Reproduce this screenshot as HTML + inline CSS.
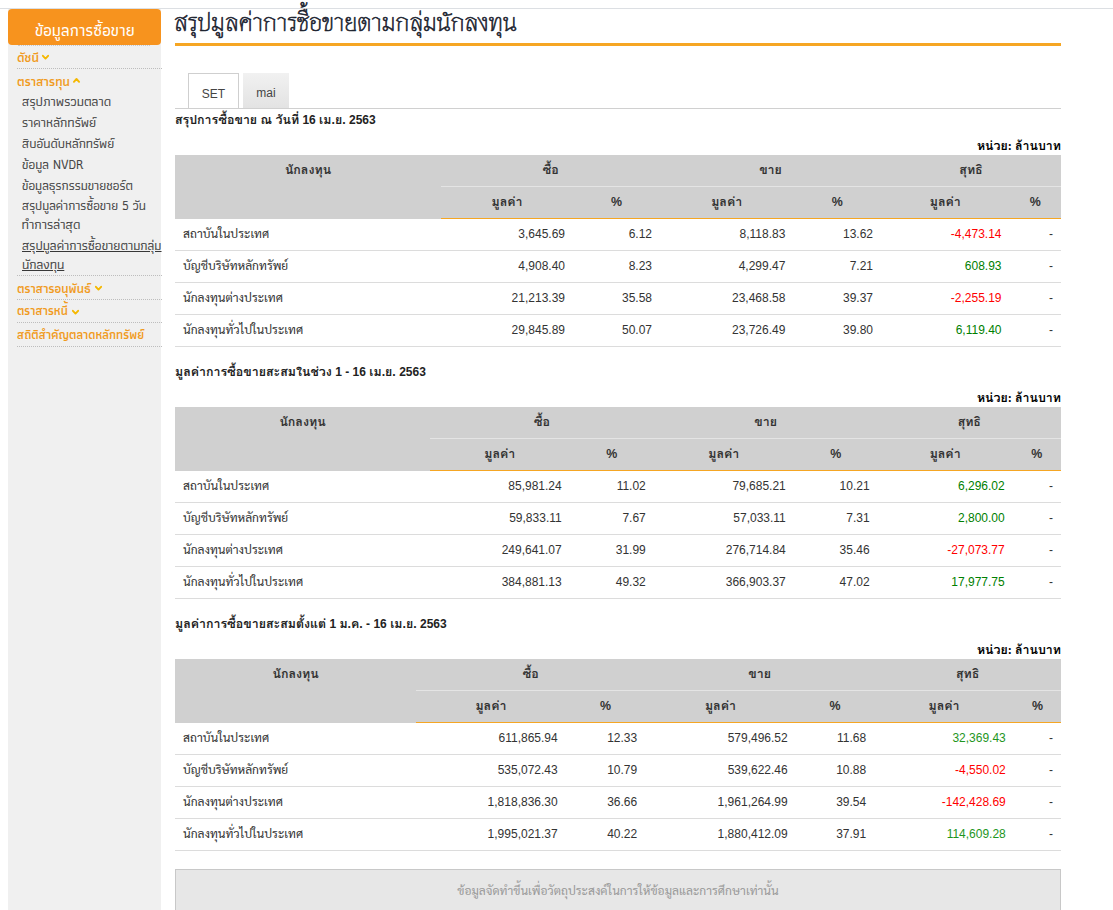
<!DOCTYPE html>
<html lang="th">
<head>
<meta charset="utf-8">
<title>สรุปมูลค่าการซื้อขายตามกลุ่มนักลงทุน</title>
<style>
*{box-sizing:border-box}
html,body{margin:0;padding:0}
body{width:1113px;height:910px;overflow:hidden;background:#fff;position:relative;font-family:"Liberation Sans","Sarabun","Noto Sans Thai Looped",sans-serif;font-size:12px;color:#333}
.abs{position:absolute;white-space:nowrap}
.topline{position:absolute;left:0;top:8px;width:1113px;height:1px;background:#dcdfe3}
.side{position:absolute;left:8px;top:9px;width:153px;height:901px;background:#f0f0f0}
.shead{position:absolute;left:8px;top:9px;width:153px;height:36px;background:#f7931e;border-radius:4px}
.hdot{position:absolute;left:18px;top:45px;width:132px;height:0;border-top:1px dotted #c3c8d0}
.dot{position:absolute;left:17px;width:145px;height:0;border-top:1px dotted #bdbdbd}
.cat{position:absolute;font-family:'Athiti','Thasadith','Noto Sans Thai',sans-serif;font-weight:600;font-size:13.7px;color:#f09a20;line-height:20px;white-space:nowrap;transform-origin:0 0}
.item{position:absolute;font-family:'Athiti','Thasadith','Noto Sans Thai',sans-serif;font-weight:400;font-size:13.4px;color:#383838;-webkit-text-stroke:0.2px #383838;line-height:20px;white-space:nowrap;transform-origin:0 0}
.sh{position:absolute;font-family:'Athiti','Thasadith','Noto Sans Thai',sans-serif;font-weight:500;font-size:17px;color:#fff;line-height:20px;white-space:nowrap;transform-origin:0 0}
.item.u{text-decoration:underline;text-underline-offset:1px}
.chv{position:absolute;overflow:visible}
.chv polyline{fill:none;stroke:#f5b800;stroke-width:1.9;stroke-linecap:round;stroke-linejoin:round}
.title{position:absolute;left:174px;top:7px;font-family:"Thasadith","Athiti","Noto Sans Thai",sans-serif;font-size:25.4px;color:#1d2430;line-height:30px;white-space:nowrap;-webkit-text-stroke:0.6px #1d2430}
.tline{position:absolute;left:175px;top:43px;width:886px;height:3px;background:#f6a623}
.tab{position:absolute;top:73px;height:35px;border:1px solid #cfcfcf;border-bottom:none;text-align:center;font-size:12px;color:#444;line-height:41px}
.tab1{left:188px;width:51px;background:#fff}
.tab2{left:243px;width:46px;border:none;background:linear-gradient(#f1f1f1,#e3e3e3)}
.tabline{position:absolute;left:175px;top:108px;width:886px;height:1px;background:#d0d0d0}
.h{position:absolute;left:175px;font-weight:700;font-size:12px;color:#222;line-height:16px;white-space:nowrap;font-family:"Liberation Sans","Loma","Sarabun","Noto Sans Thai Looped",sans-serif}
.h .t{font-size:12.4px}
.unit{position:absolute;right:52px;font-family:"Liberation Serif","Loma","Sarabun","Noto Sans Thai Looped",serif;font-weight:700;font-size:12.4px;color:#000;line-height:16px;white-space:nowrap}
table.d{position:absolute;left:175px;width:886px;border-collapse:collapse;table-layout:fixed}
table.d th{background:#d0d0d0;font-weight:700;color:#333;text-align:center;height:31px;padding:0;vertical-align:top;line-height:14px;padding-top:8px;font-size:12.4px;font-family:"Liberation Sans","Loma","Sarabun","Noto Sans Thai Looped",sans-serif}
table.d tr.r1 th.g{border-bottom:1px solid #e4e4e4}
table.d tr.r2 th{border-bottom:1px solid #f5a623;height:31px}
table.d th.n{height:63px;border-bottom:1px solid #d0d0d0}
table.d td{height:32px;border-bottom:1px solid #dcdcdc;padding:0 8px 0 0;text-align:right;vertical-align:top;padding-top:8px;line-height:14px}
table.d td.l{text-align:left;padding-left:8px}
.neg{color:#ff0000}.pos{color:#008000}.pos3{color:#1e961e}
.foot{position:absolute;left:175px;top:869px;width:886px;height:60px;background:#e7e7e7;border:1px solid #c8c8c8;text-align:center;color:#999;font-size:12px;line-height:16px;padding-top:13px}
</style>
</head>
<body>
<div class="topline"></div>
<div class="side"></div>
<div class="shead"></div>
<div class="hdot"></div>
<!-- SIDE -->
<div class="sh" style="left:35.3px;top:19.7px;transform:scaleX(0.969)">ข้อมูลการซื้อขาย</div>
<div class="cat" style="left:17.3px;top:47.0px;transform:scaleX(0.943)">ดัชนี</div>
<div class="cat" style="left:17.2px;top:70.8px;transform:scaleX(0.925)">ตราสารทุน</div>
<div class="item" style="left:21.6px;top:92.0px;transform:scaleX(0.991)">สรุปภาพรวมตลาด</div>
<div class="item" style="left:21.6px;top:112.8px;transform:scaleX(0.986)">ราคาหลักทรัพย์</div>
<div class="item" style="left:21.6px;top:133.9px;transform:scaleX(0.971)">สิบอันดับหลักทรัพย์</div>
<div class="item" style="left:21.6px;top:154.8px;transform:scaleX(0.973)">ข้อมูล NVDR</div>
<div class="item" style="left:21.6px;top:175.5px;transform:scaleX(0.967)">ข้อมูลธุรกรรมขายชอร์ต</div>
<div class="item" style="left:21.6px;top:195.5px;transform:scaleX(0.957)">สรุปมูลค่าการซื้อขาย 5 วัน</div>
<div class="item" style="left:21.6px;top:214.7px;transform:scaleX(1.000)">ทำการล่าสุด</div>
<div class="item u" style="left:21.6px;top:235.8px;transform:scaleX(0.980)">สรุปมูลค่าการซื้อขายตามกลุ่ม</div>
<div class="item u" style="left:21.6px;top:255.2px;transform:scaleX(0.980)">นักลงทุน</div>
<div class="cat" style="left:17.2px;top:277.5px;transform:scaleX(0.911)">ตราสารอนุพันธ์</div>
<div class="cat" style="left:17.2px;top:300.4px;transform:scaleX(0.893)">ตราสารหนี้</div>
<div class="cat" style="left:17.2px;top:324.3px;transform:scaleX(0.895)">สถิติสำคัญตลาดหลักทรัพย์</div>
<!-- /SIDE -->
<div class="dot" style="top:68px"></div>
<div class="dot" style="top:275px"></div>
<div class="dot" style="top:299px"></div>
<div class="dot" style="top:322px"></div>
<div class="dot" style="top:346px"></div>
<svg class="chv" style="left:41px;top:54px" width="9" height="7" viewBox="0 0 9 7"><polyline points="1.9,1.8 4.5,4.6 7.1,1.8"/></svg>
<svg class="chv" style="left:71.5px;top:76.5px" width="9" height="7" viewBox="0 0 9 7"><polyline points="1.9,4.8 4.5,2 7.1,4.8"/></svg>
<svg class="chv" style="left:93.7px;top:285.2px" width="9" height="7" viewBox="0 0 9 7"><polyline points="1.9,1.8 4.5,4.6 7.1,1.8"/></svg>
<svg class="chv" style="left:70.8px;top:308.9px" width="9" height="7" viewBox="0 0 9 7"><polyline points="1.9,1.8 4.5,4.6 7.1,1.8"/></svg>

<div class="title">สรุปมูลค่าการซื้อขายตามกลุ่มนักลงทุน</div>
<div class="tline"></div>
<div class="tab tab1">SET</div>
<div class="tab tab2">mai</div>
<div class="tabline"></div>

<!-- TABLES -->
<div class="h" style="top:111.5px"><span class="t">สรุปการซื้อขาย ณ วันที่</span> 16 <span class="t">เม.ย.</span> 2563</div>
<div class="unit" style="top:137.8px">หน่วย: ล้านบาท</div>
<table class="d" style="top:155px"><colgroup><col style="width:266px"><col style="width:132px"><col style="width:87px"><col style="width:133.4px"><col style="width:87.6px"><col style="width:128.5px"><col style="width:51.5px"></colgroup><tr class="r1"><th class="n" rowspan="2">นักลงทุน</th><th class="g" colspan="2">ซื้อ</th><th class="g" colspan="2">ขาย</th><th class="g" colspan="2">สุทธิ</th></tr><tr class="r2"><th>มูลค่า</th><th>%</th><th>มูลค่า</th><th>%</th><th>มูลค่า</th><th>%</th></tr><tr><td class="l">สถาบันในประเทศ</td><td>3,645.69</td><td>6.12</td><td>8,118.83</td><td>13.62</td><td class="neg">-4,473.14</td><td>-</td></tr><tr><td class="l">บัญชีบริษัทหลักทรัพย์</td><td>4,908.40</td><td>8.23</td><td>4,299.47</td><td>7.21</td><td class="pos">608.93</td><td>-</td></tr><tr><td class="l">นักลงทุนต่างประเทศ</td><td>21,213.39</td><td>35.58</td><td>23,468.58</td><td>39.37</td><td class="neg">-2,255.19</td><td>-</td></tr><tr><td class="l">นักลงทุนทั่วไปในประเทศ</td><td>29,845.89</td><td>50.07</td><td>23,726.49</td><td>39.80</td><td class="pos">6,119.40</td><td>-</td></tr></table>
<div class="h" style="top:363.5px"><span class="t">มูลค่าการซื้อขายสะสมในช่วง</span> 1 - 16 <span class="t">เม.ย.</span> 2563</div>
<div class="unit" style="top:389.8px">หน่วย: ล้านบาท</div>
<table class="d" style="top:407px"><colgroup><col style="width:255px"><col style="width:139.7px"><col style="width:84.1px"><col style="width:140.0px"><col style="width:83.8px"><col style="width:135.1px"><col style="width:48.3px"></colgroup><tr class="r1"><th class="n" rowspan="2">นักลงทุน</th><th class="g" colspan="2">ซื้อ</th><th class="g" colspan="2">ขาย</th><th class="g" colspan="2">สุทธิ</th></tr><tr class="r2"><th>มูลค่า</th><th>%</th><th>มูลค่า</th><th>%</th><th>มูลค่า</th><th>%</th></tr><tr><td class="l">สถาบันในประเทศ</td><td>85,981.24</td><td>11.02</td><td>79,685.21</td><td>10.21</td><td class="pos">6,296.02</td><td>-</td></tr><tr><td class="l">บัญชีบริษัทหลักทรัพย์</td><td>59,833.11</td><td>7.67</td><td>57,033.11</td><td>7.31</td><td class="pos">2,800.00</td><td>-</td></tr><tr><td class="l">นักลงทุนต่างประเทศ</td><td>249,641.07</td><td>31.99</td><td>276,714.84</td><td>35.46</td><td class="neg">-27,073.77</td><td>-</td></tr><tr><td class="l">นักลงทุนทั่วไปในประเทศ</td><td>384,881.13</td><td>49.32</td><td>366,903.37</td><td>47.02</td><td class="pos">17,977.75</td><td>-</td></tr></table>
<div class="h" style="top:615.5px"><span class="t">มูลค่าการซื้อขายสะสมตั้งแต่</span> 1 <span class="t">ม.ค.</span> - 16 <span class="t">เม.ย.</span> 2563</div>
<div class="unit" style="top:641.8px">หน่วย: ล้านบาท</div>
<table class="d" style="top:659px"><colgroup><col style="width:241.2px"><col style="width:149.5px"><col style="width:79.5px"><col style="width:150.5px"><col style="width:78.5px"><col style="width:139.6px"><col style="width:47.2px"></colgroup><tr class="r1"><th class="n" rowspan="2">นักลงทุน</th><th class="g" colspan="2">ซื้อ</th><th class="g" colspan="2">ขาย</th><th class="g" colspan="2">สุทธิ</th></tr><tr class="r2"><th>มูลค่า</th><th>%</th><th>มูลค่า</th><th>%</th><th>มูลค่า</th><th>%</th></tr><tr><td class="l">สถาบันในประเทศ</td><td>611,865.94</td><td>12.33</td><td>579,496.52</td><td>11.68</td><td class="pos3">32,369.43</td><td>-</td></tr><tr><td class="l">บัญชีบริษัทหลักทรัพย์</td><td>535,072.43</td><td>10.79</td><td>539,622.46</td><td>10.88</td><td class="neg">-4,550.02</td><td>-</td></tr><tr><td class="l">นักลงทุนต่างประเทศ</td><td>1,818,836.30</td><td>36.66</td><td>1,961,264.99</td><td>39.54</td><td class="neg">-142,428.69</td><td>-</td></tr><tr><td class="l">นักลงทุนทั่วไปในประเทศ</td><td>1,995,021.37</td><td>40.22</td><td>1,880,412.09</td><td>37.91</td><td class="pos3">114,609.28</td><td>-</td></tr></table>
<!-- /TABLES -->

<div class="foot">ข้อมูลจัดทำขึ้นเพื่อวัตถุประสงค์ในการให้ข้อมูลและการศึกษาเท่านั้น</div>
</body>
</html>
